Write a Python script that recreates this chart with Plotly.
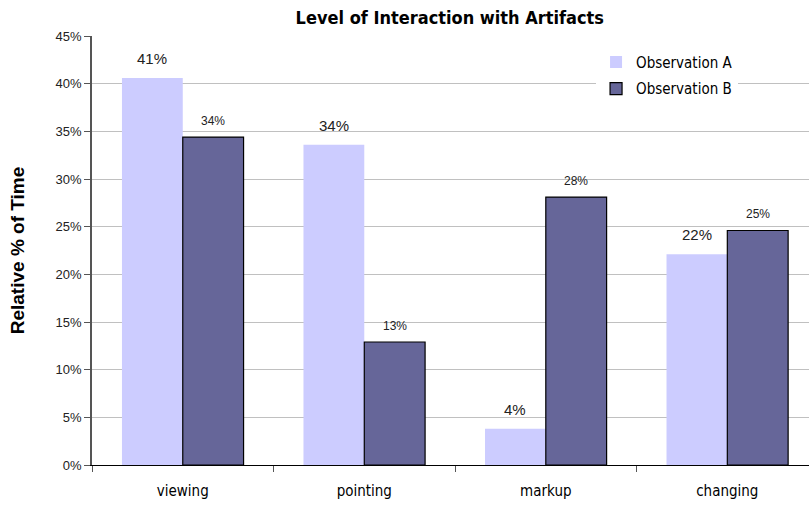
import plotly.graph_objects as go

categories = ["viewing", "pointing", "markup", "changing"]
obs_a = [0.406, 0.336, 0.038, 0.221]
obs_b = [0.344, 0.129, 0.281, 0.246]
y_ticks = [0, 0.05, 0.10, 0.15, 0.20, 0.25, 0.30, 0.35, 0.40, 0.45]

BARGAP = 0.33
HALF = (1 - BARGAP) / 4  # offset of each bar centre from its category centre
COND = "DejaVu Sans Condensed, Liberation Sans Narrow, Arial Narrow, sans-serif"

fig = go.Figure()
fig.add_trace(go.Bar(
    name="Observation A", x=categories, y=obs_a, legendgroup="a",
    marker=dict(color="#CCCCFF", line=dict(width=0)),
))
fig.add_trace(go.Bar(
    name="Observation B", x=categories, y=obs_b, legendgroup="b",
    marker=dict(color="#666699", line=dict(width=1.2, color="#000000")),
))

# value labels above each bar
for i, (a, b) in enumerate(zip(obs_a, obs_b)):
    fig.add_annotation(x=i - HALF, y=a, text=f"{a:.0%}", showarrow=False,
                       yanchor="bottom", yshift=9,
                       font=dict(size=15, family="Liberation Sans", color="#222222"))
    fig.add_annotation(x=i + HALF, y=b, text=f"{b:.0%}", showarrow=False,
                       yanchor="bottom", yshift=7,
                       font=dict(size=12, family="Liberation Sans", color="#222222"))

fig.update_layout(
    width=809, height=506,
    margin=dict(l=92, r=0, t=36, b=41),
    paper_bgcolor="white", plot_bgcolor="white",
    barmode="group", bargap=BARGAP, bargroupgap=0,
    title=dict(text="<b>Level of Interaction with Artifacts</b>",
               x=0.556, xanchor="center", y=0.966, yanchor="middle",
               font=dict(size=18, family=COND, color="#000000")),
    legend=dict(x=0.703, y=0.977, xanchor="left", yanchor="top",
                bgcolor="white", borderwidth=0, traceorder="grouped",
                font=dict(size=15, family=COND, color="#000000"),
                itemwidth=30, tracegroupgap=4),
    font=dict(family="Liberation Sans", color="#000000"),
)
fig.update_xaxes(
    range=[-0.5, 3.45], showline=True, linecolor="#000000", linewidth=1,
    ticks="outside", tickson="boundaries", ticklen=6, tickcolor="#555555",
    tickfont=dict(size=15, family=COND, color="#000000"),
    showgrid=False, ticklabelstandoff=12,
)
fig.update_yaxes(
    range=[0, 0.45], tickvals=y_ticks, tickformat=".0%",
    showline=True, linecolor="#555555", linewidth=1.5,
    ticks="outside", ticklen=6, tickcolor="#555555",
    showgrid=True, gridcolor="#c0c0c0", gridwidth=1,
    tickfont=dict(size=13, family="Liberation Sans", color="#222222"),
    title=dict(text="<b>Relative % of Time</b>", standoff=26,
               font=dict(size=19, family="Liberation Sans", color="#000000")),
    zeroline=False,
)

fig.write_html("out.html")
